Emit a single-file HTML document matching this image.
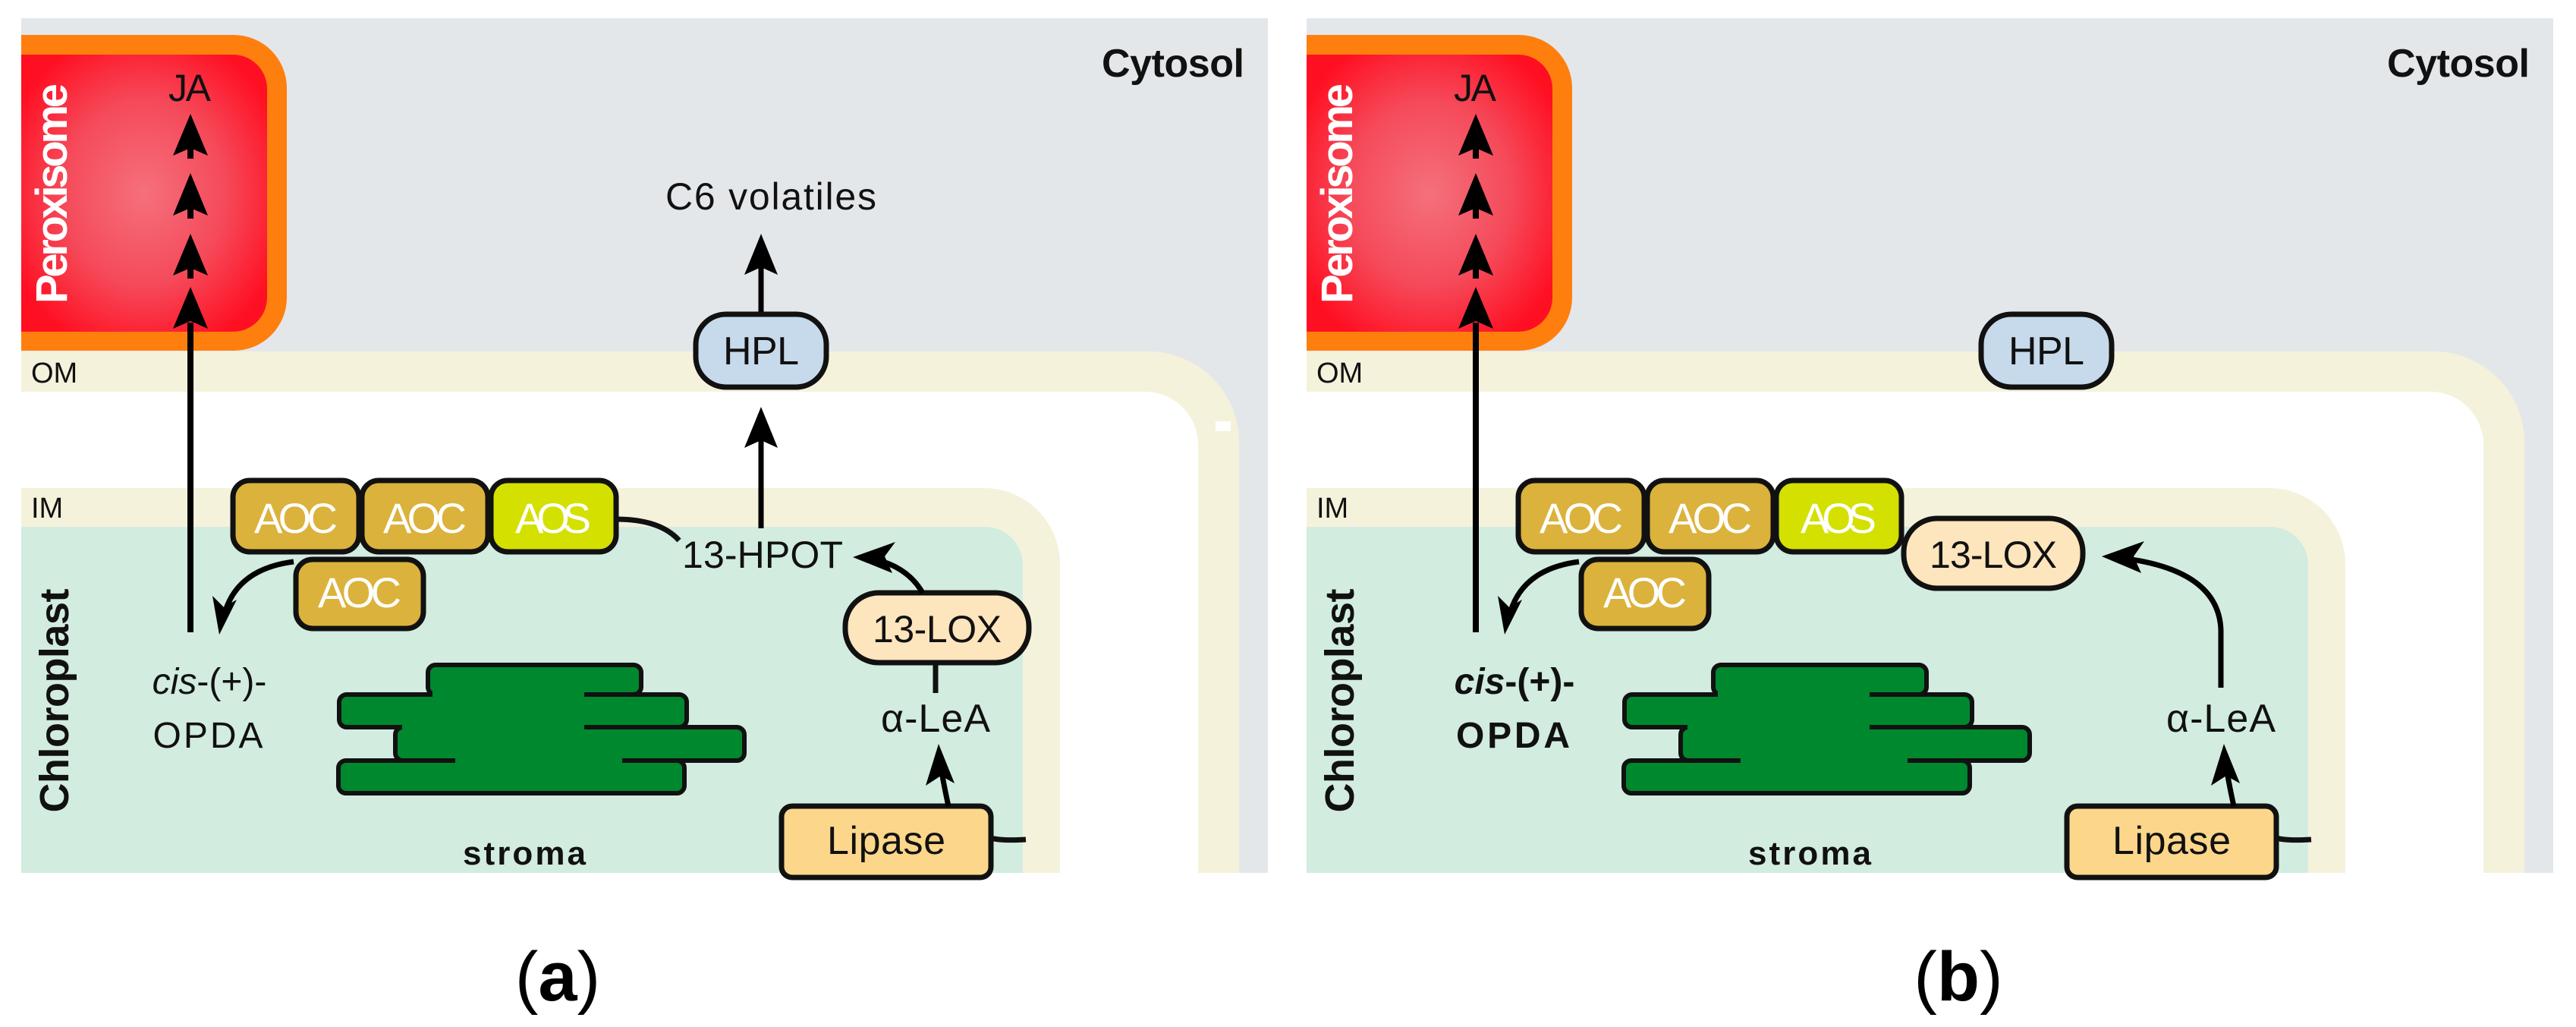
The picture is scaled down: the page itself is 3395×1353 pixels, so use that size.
<!DOCTYPE html>
<html><head><meta charset="utf-8"><style>
html,body{margin:0;padding:0;background:#fff;}
svg{display:block;}
text{font-family:"Liberation Sans",sans-serif;}
</style></head><body>
<svg width="3395" height="1353" viewBox="0 0 3395 1353" xmlns="http://www.w3.org/2000/svg">
<defs>
<radialGradient id="rg" cx="0.5" cy="0.5" r="0.6">
<stop offset="0" stop-color="#f5707c"/><stop offset="0.55" stop-color="#f54a5a"/><stop offset="1" stop-color="#ff0f22"/>
</radialGradient>
<g id="base">
<rect x="28" y="24" width="1643" height="1126" fill="#e4e7ea"/>
<path d="M28,463 H1513 A120,120 0 0 1 1633,583 V1150 H28 Z" fill="#f5f2dc"/>
<path d="M28,516 H1509 A70,70 0 0 1 1579,586 V1150 H28 Z" fill="#ffffff"/>
<path d="M28,643 H1297 A100,100 0 0 1 1397,743 V1150 H28 Z" fill="#f5f2dc"/>
<path d="M28,694 H1298 A50,50 0 0 1 1348,744 V1150 H28 Z" fill="#d2ece0"/>
<path d="M28,46 H308 A70,70 0 0 1 378,116 V392 A70,70 0 0 1 308,462 H28 Z" fill="#ff7f0e"/>
<path d="M28,72 H307 A45,45 0 0 1 352,117 V392 A45,45 0 0 1 307,437 H28 Z" fill="url(#rg)"/>
<text x="0" y="0" transform="translate(88,255) rotate(-90)" text-anchor="middle" font-size="58" font-weight="bold" fill="#fff" textLength="290">Peroxisome</text>
<text x="0" y="0" transform="translate(90,923) rotate(-90)" text-anchor="middle" font-size="54" font-weight="bold" fill="#111" textLength="295">Chloroplast</text>
<text x="1640" y="101" text-anchor="end" font-size="52" font-weight="bold" fill="#111" textLength="188">Cytosol</text>
<text x="250" y="133" text-anchor="middle" font-size="50" fill="#111" textLength="56">JA</text>
<text x="41" y="504" font-size="38" fill="#111">OM</text>
<text x="41" y="682" font-size="38" fill="#111">IM</text>
<!-- JA arrows -->
<g fill="#000" stroke="none">
<polygon points="251,150 274,205 251,195 228,205"/><rect x="247" y="195" width="8" height="14"/>
<polygon points="251,228 274,284 251,274 228,284"/><rect x="247" y="274" width="8" height="14"/>
<polygon points="251,308 274,363 251,353 228,363"/><rect x="247" y="353" width="8" height="14"/>
<polygon points="251,378 274,433 251,423 228,433"/>
</g>
<line x1="251" y1="425" x2="251" y2="833" stroke="#000" stroke-width="8"/>
<!-- enzymes -->
<g stroke="#111" stroke-width="7">
<rect x="307" y="633" width="166" height="94" rx="22" fill="#dbb23c"/>
<rect x="477" y="633" width="166" height="94" rx="22" fill="#dbb23c"/>
<rect x="647" y="633" width="165" height="94" rx="22" fill="#d4e000"/>
<rect x="390" y="737" width="168" height="91" rx="22" fill="#dbb23c"/>
</g>
<g font-size="56" fill="#fff" text-anchor="middle">
<text x="390" y="702" textLength="110">AOC</text>
<text x="560" y="702" textLength="110">AOC</text>
<text x="729" y="702" textLength="100">AOS</text>
<text x="474" y="800" textLength="110">AOC</text>
</g>
<path d="M387,740 Q310,750 295,812" fill="none" stroke="#000" stroke-width="7"/>
<polygon points="289,836 280,785 295,800 312,790" fill="#000"/>
<!-- thylakoids -->
<g fill="#00882e" stroke="#111" stroke-width="6">
<rect x="446" y="1002" width="456" height="43" rx="10"/>
<rect x="521" y="958" width="460" height="44" rx="10"/>
<rect x="447" y="915" width="458" height="43" rx="10"/>
<rect x="564" y="876" width="281" height="39" rx="10"/>
</g>
<g fill="#00882e">
<rect x="570" y="905" width="200" height="17"/>
<rect x="530" y="948" width="240" height="18"/>
<rect x="600" y="992" width="220" height="18"/>
</g>
<text x="691" y="1139" text-anchor="middle" font-size="44" font-weight="bold" fill="#111" textLength="162">stroma</text>
<!-- lipase -->
<rect x="1030" y="1062" width="276" height="94" rx="14" fill="#fcd68a" stroke="#111" stroke-width="7"/>
<text x="1168" y="1125" text-anchor="middle" font-size="52" fill="#111" textLength="156">Lipase</text>
<path d="M1306,1104 Q1320,1108 1352,1106" fill="none" stroke="#111" stroke-width="7"/>
<path d="M1250,1062 Q1243,1030 1240,1010" fill="none" stroke="#000" stroke-width="7"/>
<polygon points="1237,980 1258,1032 1240,1022 1220,1035" fill="#000"/>
<text x="1233" y="964" text-anchor="middle" font-size="52" fill="#111" textLength="144">α-LeA</text>
</g>
</defs>

<!-- Panel a -->
<use href="#base"/>
<text x="1016" y="276" text-anchor="middle" font-size="50" fill="#111" textLength="278">C6 volatiles</text>
<line x1="1003" y1="335" x2="1003" y2="415" stroke="#000" stroke-width="7"/>
<polygon points="1003,308 1025,362 1003,352 981,362" fill="#000"/>
<rect x="917" y="414" width="172" height="96" rx="40" fill="#c6daeb" stroke="#111" stroke-width="7"/>
<text x="1003" y="480" text-anchor="middle" font-size="52" fill="#111" textLength="100">HPL</text>
<line x1="1003" y1="560" x2="1003" y2="696" stroke="#000" stroke-width="7"/>
<polygon points="1003,536 1025,590 1003,580 981,590" fill="#000"/>
<path d="M812,684 Q870,684 895,712" fill="none" stroke="#111" stroke-width="7"/>
<text x="1005" y="748" text-anchor="middle" font-size="50" fill="#111" textLength="212">13-HPOT</text>
<rect x="1114" y="781" width="242" height="92" rx="44" fill="#fde5bd" stroke="#111" stroke-width="7"/>
<text x="1235" y="846" text-anchor="middle" font-size="50" fill="#111" textLength="170">13-LOX</text>
<path d="M1216,781 Q1195,745 1148,736" fill="none" stroke="#000" stroke-width="7"/>
<polygon points="1124,734 1180,714 1166,733 1176,755" fill="#000"/>
<line x1="1233" y1="873" x2="1233" y2="913" stroke="#111" stroke-width="7"/>
<text x="276" y="914" text-anchor="middle" font-size="48" fill="#111"><tspan font-style="italic">cis</tspan>-(+)-</text>
<text x="274" y="985" text-anchor="middle" font-size="48" fill="#111" textLength="145">OPDA</text>
<text x="735" y="1318" text-anchor="middle" font-size="92" font-family="Liberation Serif, serif" fill="#000">(<tspan font-weight="bold">a</tspan>)</text>
<rect x="1602" y="555" width="20" height="13" fill="#fff"/>

<!-- Panel b -->
<g transform="translate(1694,0)">
<use href="#base"/>
<rect x="917" y="414" width="172" height="96" rx="40" fill="#c6daeb" stroke="#111" stroke-width="7"/>
<text x="1003" y="480" text-anchor="middle" font-size="52" fill="#111" textLength="100">HPL</text>
<rect x="815" y="683" width="236" height="92" rx="44" fill="#fde5bd" stroke="#111" stroke-width="7"/>
<text x="933" y="748" text-anchor="middle" font-size="50" fill="#111" textLength="168">13-LOX</text>
<path d="M1233,906 L1233,830 Q1230,750 1100,735" fill="none" stroke="#000" stroke-width="7"/>
<polygon points="1076,733 1132,713 1118,733 1128,755" fill="#000"/>
<text x="302" y="914" text-anchor="middle" font-size="48" fill="#111" font-weight="bold"><tspan font-style="italic">cis</tspan>-(+)-</text>
<text x="300" y="985" text-anchor="middle" font-size="48" fill="#111" font-weight="bold" textLength="150">OPDA</text>
<text x="887" y="1318" text-anchor="middle" font-size="92" font-family="Liberation Serif, serif" fill="#000">(<tspan font-weight="bold">b</tspan>)</text>
</g>
</svg>
</body></html>
